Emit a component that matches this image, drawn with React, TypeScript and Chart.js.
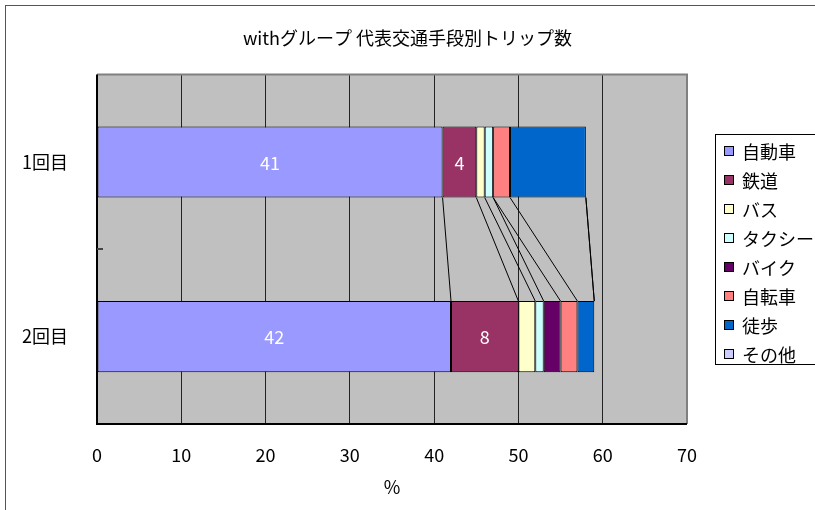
import React, { useEffect, useRef } from "react";
import { Chart, registerables } from "chart.js";

Chart.register(...registerables);

// ---- data ----
const chartTitle = "withグループ 代表交通手段別トリップ数";
const categories = ["1回目", "2回目"];
const seriesNames = ["自動車", "鉄道", "バス", "タクシー", "バイク", "自転車", "徒歩", "その他"];
const round1Values = [41, 4, 1, 1, 0, 2, 9, 0];
const round2Values = [42, 8, 2, 1, 2, 2, 2, 0];
const seriesColors = ["#9999FF", "#993366", "#FFFFCC", "#CCFFFF", "#660066", "#FF8080", "#0066CC", "#CCCCFF"];
const labeledSeries = ["自動車", "鉄道"];
const xMin = 0;
const xMax = 70;
const xStep = 10;
const xTitle = "%";

const FONT = "'Noto Sans CJK JP', 'Noto Sans', sans-serif";
const FS = 18;

const decorPlugin = {
  id: "decor",
  beforeDraw(chart: any) {
    const { ctx, chartArea: a } = chart;
    ctx.save();
    ctx.fillStyle = "#ffffff";
    ctx.fillRect(0, 0, chart.width, chart.height);
    ctx.fillStyle = "#C0C0C0";
    ctx.fillRect(a.left, a.top, a.right - a.left, a.bottom - a.top);
    ctx.restore();
  },
  afterDatasetsDraw(chart: any) {
    const ctx = chart.ctx;
    ctx.save();
    // series lines between the two bars
    ctx.strokeStyle = "#000";
    ctx.lineWidth = 1;
    chart.data.datasets.forEach((ds: any, i: number) => {
      const meta = chart.getDatasetMeta(i);
      const e0 = meta.data[0];
      const e1 = meta.data[1];
      if (!e0 || !e1) return;
      ctx.beginPath();
      ctx.moveTo(e0.x, e0.y + e0.height / 2);
      ctx.lineTo(e1.x, e1.y - e1.height / 2);
      ctx.stroke();
    });
    // data labels
    ctx.fillStyle = "#ffffff";
    ctx.font = `${FS}px ${FONT}`;
    ctx.textAlign = "center";
    ctx.textBaseline = "middle";
    chart.data.datasets.forEach((ds: any, i: number) => {
      if (!labeledSeries.includes(ds.label)) return;
      const meta = chart.getDatasetMeta(i);
      meta.data.forEach((el: any, j: number) => {
        ctx.fillText(String(ds.data[j]), (el.x + el.base) / 2, el.y + 1);
      });
    });
    ctx.restore();
  },
  afterDraw(chart: any) {
    const { ctx, chartArea: a } = chart;
    ctx.save();
    // plot border: top/right gray, left/bottom black
    ctx.lineWidth = 2;
    ctx.strokeStyle = "#808080";
    ctx.beginPath();
    ctx.moveTo(a.left, a.top);
    ctx.lineTo(a.right, a.top);
    ctx.lineTo(a.right, a.bottom);
    ctx.stroke();
    ctx.strokeStyle = "#000";
    ctx.beginPath();
    ctx.moveTo(a.left, a.top);
    ctx.lineTo(a.left, a.bottom);
    ctx.lineTo(a.right, a.bottom);
    ctx.stroke();
    // inner category tick
    const ys = chart.scales.y;
    const midY = ys.getPixelForValue(0.5);
    ctx.fillStyle = "#444";
    ctx.fillRect(a.left, Math.round(midY) - 1, 6, 2);

    // legend
    const lx = 715, ly = 134, lw = 130, lh = 230;
    ctx.fillStyle = "#fff";
    ctx.fillRect(lx, ly, lw, lh);
    ctx.strokeStyle = "#000";
    ctx.lineWidth = 1;
    ctx.strokeRect(lx + 0.5, ly + 0.5, lw, lh);
    ctx.font = `${FS}px ${FONT}`;
    ctx.textAlign = "left";
    ctx.textBaseline = "middle";
    chart.data.datasets.forEach((ds: any, i: number) => {
      const cy = 151 + i * 29;
      ctx.fillStyle = ds.backgroundColor;
      ctx.fillRect(725, cy - 4, 8, 8);
      ctx.strokeStyle = "#000";
      ctx.strokeRect(724.5, cy - 4.5, 9, 9);
      ctx.fillStyle = "#000";
      ctx.fillText(ds.label, 742, cy + 1);
    });

    // outer chart border
    ctx.strokeStyle = "#555";
    ctx.lineWidth = 1;
    ctx.strokeRect(5.5, 5.5, chart.width + 20, chart.height + 20);
    ctx.restore();
  },
};

export default function App() {
  const canvasRef = useRef<HTMLCanvasElement | null>(null);

  useEffect(() => {
    if (!canvasRef.current) return;
    const datasets = seriesNames.map((name, i) => ({
      label: name,
      data: [round1Values[i], round2Values[i]],
      backgroundColor: seriesColors[i],
      borderColor: "#000",
      borderWidth: 1,
      borderSkipped: false,
      barPercentage: 0.407,
      categoryPercentage: 1,
    }));
    const chart = new Chart(canvasRef.current, {
      type: "bar",
      data: { labels: categories, datasets },
      plugins: [decorPlugin],
      options: {
        animation: false,
        responsive: false,
        devicePixelRatio: 1,
        indexAxis: "y",
        layout: { padding: { left: 0, right: 0, top: 0, bottom: 0 } },
        plugins: {
          legend: { display: false },
          tooltip: { enabled: false },
          title: {
            display: true,
            text: chartTitle,
            color: "#000",
            font: { family: FONT, size: FS, weight: "normal" },
            padding: { top: 27, bottom: 26 },
          },
        },
        scales: {
          x: {
            stacked: true,
            min: xMin,
            max: xMax,
            ticks: { stepSize: xStep, color: "#000", font: { family: FONT, size: FS }, padding: 20 },
            grid: { color: "#222", drawTicks: false, lineWidth: 1 },
            border: { display: false },
            title: {
              display: true,
              text: xTitle,
              color: "#000",
              font: { family: FONT, size: FS },
              padding: { top: 0, bottom: 12 },
            },
            afterFit: (s: any) => {
              s.height = 86;
            },
          },
          y: {
            stacked: true,
            ticks: { color: "#000", font: { family: FONT, size: FS }, padding: 29 },
            grid: { display: false, drawTicks: false },
            border: { display: false },
            afterFit: (s: any) => {
              s.width = 97;
            },
          },
          yRight: {
            type: "linear",
            position: "right",
            display: true,
            ticks: { display: false },
            grid: { display: false, drawTicks: false },
            border: { display: false },
            afterFit: (s: any) => {
              s.width = 128;
            },
          },
        },
      } as any,
    });
    return () => chart.destroy();
  }, []);

  return (
    <div style={{ position: "absolute", left: 0, top: 0, width: 815, height: 510 }}>
      <canvas ref={canvasRef} width={815} height={510} style={{ display: "block" }} />
    </div>
  );
}
